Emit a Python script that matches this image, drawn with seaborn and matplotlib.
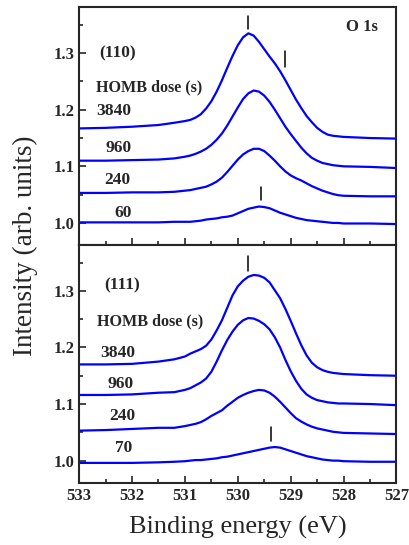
import numpy as np
import pandas as pd
import matplotlib
matplotlib.use("Agg")
import matplotlib.pyplot as plt
from matplotlib.ticker import MultipleLocator, FuncFormatter
import seaborn as sns

# --- data (binding energy in eV) ---
energy = [533.0, 532.5, 532.0, 531.5, 531.2,
          531.0, 530.9, 530.8, 530.7, 530.6, 530.5, 530.4, 530.3, 530.2, 530.1,
          530.0, 529.9, 529.8, 529.7, 529.6, 529.5, 529.4, 529.3, 529.2, 529.1,
          529.0, 528.9, 528.8, 528.7, 528.6, 528.5, 528.4, 528.3, 528.2, 528.1,
          528.0, 527.5, 527.0]

# (110) surface
s110_3840 = [1.167, 1.168, 1.170, 1.173, 1.177,
             1.180, 1.182, 1.186, 1.192, 1.202, 1.215, 1.232, 1.252, 1.274, 1.295,
             1.314, 1.328, 1.335, 1.331, 1.320, 1.307, 1.294, 1.282, 1.268, 1.252,
             1.235, 1.218, 1.203, 1.189, 1.178, 1.168, 1.161, 1.156, 1.154, 1.153,
             1.152, 1.150, 1.149]
s110_960 = [1.110, 1.110, 1.111, 1.112, 1.114,
            1.117, 1.119, 1.122, 1.126, 1.131, 1.138, 1.147, 1.158, 1.172, 1.188,
            1.204, 1.219, 1.229, 1.234, 1.232, 1.225, 1.214, 1.200, 1.185, 1.170,
            1.157, 1.145, 1.133, 1.123, 1.115, 1.110, 1.106, 1.104, 1.102, 1.101,
            1.100, 1.099, 1.097]
s110_240 = [1.053, 1.053, 1.054, 1.054, 1.055,
            1.057, 1.058, 1.060, 1.062, 1.064, 1.068, 1.073, 1.080, 1.090, 1.101,
            1.112, 1.121, 1.127, 1.131, 1.131, 1.127, 1.119, 1.110, 1.100, 1.091,
            1.084, 1.079, 1.075, 1.070, 1.065, 1.061, 1.057, 1.054, 1.051, 1.049,
            1.048, 1.047, 1.047]
s110_60 = [1.001, 1.001, 1.001, 1.001, 1.002,
           1.002, 1.002, 1.003, 1.004, 1.006, 1.007, 1.008, 1.010, 1.011, 1.013,
           1.017, 1.021, 1.025, 1.027, 1.029, 1.028, 1.026, 1.022, 1.018, 1.015,
           1.012, 1.009, 1.007, 1.005, 1.004, 1.003, 1.002, 1.001, 1.000, 1.000,
           0.999, 0.999, 0.998]

# (111) surface
s111_3840 = [1.170, 1.170, 1.171, 1.175, 1.179,
             1.184, 1.189, 1.193, 1.197, 1.203, 1.214, 1.230, 1.248, 1.270, 1.292,
             1.308, 1.318, 1.325, 1.328, 1.327, 1.323, 1.315, 1.301, 1.287, 1.268,
             1.247, 1.225, 1.204, 1.186, 1.173, 1.165, 1.160, 1.157, 1.155, 1.154,
             1.153, 1.151, 1.150]
s111_960 = [1.116, 1.116, 1.117, 1.120, 1.121,
            1.125, 1.128, 1.133, 1.138, 1.145, 1.157, 1.175, 1.195, 1.213, 1.228,
            1.240, 1.248, 1.252, 1.251, 1.247, 1.241, 1.232, 1.218, 1.200, 1.178,
            1.158, 1.141, 1.127, 1.117, 1.111, 1.107, 1.105, 1.103, 1.102, 1.101,
            1.101, 1.100, 1.098]
s111_240 = [1.053, 1.054, 1.056, 1.058, 1.058,
            1.061, 1.063, 1.065, 1.068, 1.073, 1.079, 1.084, 1.089, 1.097, 1.104,
            1.111, 1.116, 1.120, 1.123, 1.125, 1.124, 1.120, 1.113, 1.104, 1.094,
            1.084, 1.075, 1.069, 1.064, 1.060, 1.057, 1.055, 1.053, 1.051, 1.050,
            1.049, 1.048, 1.047]
s111_70 = [0.996, 0.996, 0.996, 0.997, 0.998,
           0.999, 1.000, 1.001, 1.001, 1.002, 1.003, 1.004, 1.006, 1.007, 1.009,
           1.011, 1.013, 1.015, 1.017, 1.019, 1.021, 1.023, 1.024, 1.023, 1.020,
           1.017, 1.014, 1.011, 1.008, 1.006, 1.004, 1.002, 1.001, 1.000, 1.000,
           0.999, 0.998, 0.998]

doses_110 = ["3840", "960", "240", "60"]
doses_111 = ["3840", "960", "240", "70"]

# peak position markers: (energy, y_low, y_high)
marks_110 = [(529.81, 1.342, 1.365), (529.10, 1.276, 1.303), (529.56, 1.041, 1.064)]
marks_111 = [(529.81, 1.335, 1.362), (529.38, 1.034, 1.060)]

sns.set_style("ticks")
plt.rcParams['font.family'] = ['Liberation Serif', 'DejaVu Serif']

fig = plt.figure(figsize=(4.10, 5.45), dpi=100)
gs = fig.add_gridspec(2, 1, left=0.193, right=0.967, bottom=0.1143, top=0.9866, hspace=0)
ax1 = fig.add_subplot(gs[0])
ax2 = fig.add_subplot(gs[1], sharex=ax1)

panels = [
    (ax1, [s110_3840, s110_960, s110_240, s110_60], doses_110, marks_110, "(110)"),
    (ax2, [s111_3840, s111_960, s111_240, s111_70], doses_111, marks_111, "(111)"),
]

# label positions (energy, intensity) per panel
label_pos = {
    "(110)": {"surf": (532.28, 1.299), "homb": (531.68, 1.239),
              "doses": [(532.34, 1.198), (532.26, 1.133), (532.28, 1.076), (532.17, 1.018)]},
    "(111)": {"surf": (532.19, 1.310), "homb": (531.66, 1.246),
              "doses": [(532.27, 1.190), (532.22, 1.136), (532.18, 1.078), (532.16, 1.022)]},
}

for ax, curves, doses, marks, surf in panels:
    for vals in curves:
        df = pd.DataFrame({"E": energy, "I": vals})
        sns.lineplot(data=df, x="E", y="I", ax=ax, color="#0000ff", lw=1.6,
                     estimator=None, sort=False)
    for e, lo, hi in marks:
        ax.plot([e, e], [lo, hi], color="black", lw=1.1)
    lp = label_pos[surf]
    ax.text(*lp["surf"], surf, ha="center", va="center", fontsize=12.5, fontweight="bold")
    ax.text(*lp["homb"], "HOMB dose (s)", ha="center", va="center", fontsize=11.6, fontweight="bold")
    for (x, y), d in zip(lp["doses"], doses):
        ax.text(x, y, d, ha="center", va="center", fontsize=12.5, fontweight="bold")

    ax.set_xlim(533, 527)
    ax.set_ylim(0.961, 1.381)
    ax.yaxis.set_major_locator(MultipleLocator(0.1))
    ax.yaxis.set_minor_locator(MultipleLocator(0.05))
    ax.xaxis.set_major_locator(MultipleLocator(1))
    ax.xaxis.set_minor_locator(MultipleLocator(0.5))
    ax.yaxis.set_major_formatter(FuncFormatter(lambda v, p: f"{v:.1f}"))
    ax.xaxis.set_major_formatter(FuncFormatter(lambda v, p: f"{v:.0f}"))
    ax.tick_params(which="both", direction="in", top=False, right=False, width=1.2)
    ax.tick_params(which="major", length=5, labelsize=12)
    ax.tick_params(which="minor", length=3)
    ax.set_xlabel("")
    ax.set_ylabel("")
    for sp in ax.spines.values():
        sp.set_linewidth(1.5)
        sp.set_visible(True)

ax1.text(527.66, 1.347, "O 1s", ha="center", va="center", fontsize=12, fontweight="bold")
ax1.tick_params(labelbottom=False)
for ax in (ax1, ax2):
    for lab in ax.get_xticklabels() + ax.get_yticklabels():
        lab.set_fontweight("bold")

fig.text(0.061, 0.549, "Intensity (arb. units)", rotation=90, ha="center", va="center", fontsize=19.5)
fig.text(0.580, 0.033, "Binding energy (eV)", ha="center", va="center", fontsize=19)

fig.savefig("out.png", dpi=100)
